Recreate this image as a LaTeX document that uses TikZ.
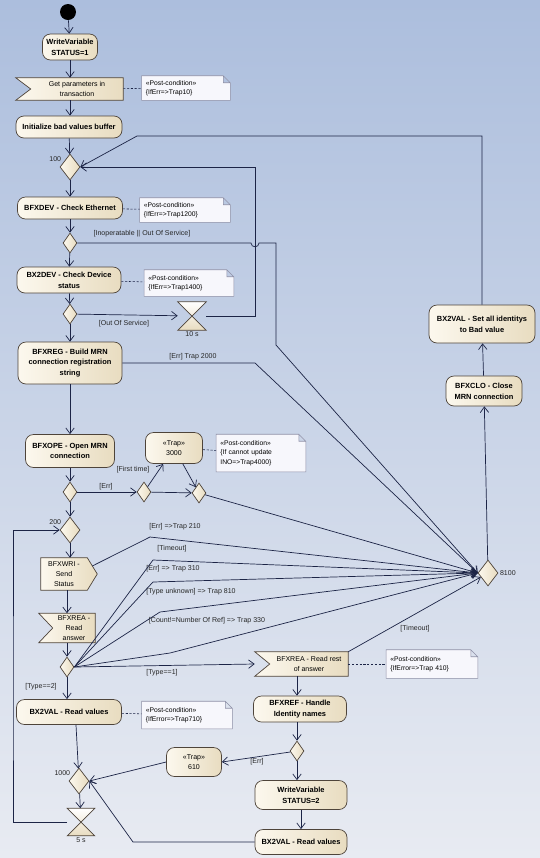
\documentclass[tikz,border=0pt]{standalone}
\usepackage{fontspec}
\setmainfont{Liberation Sans}
\usetikzlibrary{arrows.meta,shapes.geometric,backgrounds}
\newcommand{\px}{0.025cm}
\definecolor{bgtop}{RGB}{172,190,221}
\definecolor{bgbot}{RGB}{232,235,242}
\definecolor{creaml}{RGB}{252,248,238}
\definecolor{creamr}{RGB}{232,220,192}
\definecolor{boxline}{RGB}{78,68,58}
\definecolor{flowline}{RGB}{28,36,70}
\definecolor{notefill}{RGB}{247,247,252}
\definecolor{noteline}{RGB}{140,142,165}
\begin{document}
\begin{tikzpicture}[x=\px,y=-\px]
  \tikzset{
    wh/.style 2 args={minimum width=#1*\px, minimum height=#2*\px},
    start/.style={circle, fill=black, inner sep=0pt, minimum size=16*\px},
    act/.style={draw=boxline, line width=0.5pt, rounded corners=8*\px, left color=creaml, right color=creamr, align=center, inner sep=1pt, font=\fontsize{5.3}{7.6}\selectfont\bfseries},
    trap/.style={act, font=\fontsize{5}{7}\selectfont},
    sigtext/.style={align=center, inner sep=1pt, font=\fontsize{5}{7}\selectfont},
    sig/.style={draw=boxline, line width=0.5pt, left color=creaml, right color=creamr},
    hour/.style={draw=boxline, line width=0.5pt, top color=white, bottom color=creamr},
    choice/.style={diamond, draw=boxline, line width=0.5pt, left color=creaml, right color=creamr, inner sep=0pt},
    big/.style={choice, wh={20}{26}},
    small/.style={choice, wh={14}{20}},
    wait/.style={inner sep=0pt, wh={28}{28}},
    note/.style={align=left, inner xsep=4*\px, inner ysep=1pt, font=\fontsize{4.8}{6.7}\selectfont},
    notebox/.style={draw=noteline, line width=0.4pt, fill=notefill},
    lbl/.style={inner sep=1pt, font=\fontsize{5}{6}\selectfont, text=black!85},
    flow/.style={color=flowline, line width=0.5pt, -{Straight Barb[length=4pt,width=6pt]}},
    link/.style={color=flowline, line width=0.4pt, dash pattern=on 1.5pt off 1.2pt}
  }
  \useasboundingbox (0,0) rectangle (540,858);
  \begin{scope}[on background layer]
    \shade[top color=bgtop, bottom color=bgbot] (0,0) rectangle (540,858);
  \end{scope}

  \node[start] at (68,12) (s) {};
  \node[act, wh={55}{26}] at (70,47) (w1) {WriteVariable\\STATUS=1};
  \node[sigtext, wh={92}{22}] at (77,89) (get) {Get parameters in\\transaction};
  \node[note, text width=2cm, minimum height=24*\px] at (186,88) (n1) {«Post-condition»\\\{IfErr=>Trap10\}};
  \node[act, wh={106}{22}] at (69,127) (init) {Initialize bad values buffer};
  \node[big] at (70,167) (d100) [label={[lbl]150:100}] {};
  \node[act, wh={105}{22}] at (70,208) (bfxdev) {BFXDEV - Check Ethernet};
  \node[note, text width=2.05cm, minimum height=24*\px] at (185,210) (n2) {«Post-condition»\\\{IfErr=>Trap1200\}};
  \node[small] at (70,243) (d2) {};
  \node[act, wh={104}{26}] at (69,280) (bx2dev) {BX2DEV - Check Device\\status};
  \node[note, text width=2.025cm, minimum height=26*\px] at (189,283) (n3) {«Post-condition»\\\{IfErr=>Trap1400\}};
  \node[small] at (70,314) (d3) {};
  \node[wait] at (192,316) (h10) [label={[lbl]below:10 s}] {};
  \node[act, wh={104}{42}] at (70,363) (bfxreg) {BFXREG - Build MRN\\connection registration\\string};
  \node[act, wh={89}{33}] at (70,451) (bfxope) {BFXOPE - Open MRN\\connection};
  \node[trap, wh={57}{31}] at (174,448) (trap3) {«Trap»\\3000};
  \node[note, text width=2.025cm, minimum height=37*\px] at (261,453) (n4) {«Post-condition»\\\{If cannot update\\INO=>Trap4000\}};
  \node[small] at (70,492) (d4) {};
  \node[small] at (144,492) (d5) {};
  \node[small] at (199,493) (d6) {};
  \node[big] at (70,530) (d200) [label={[lbl]150:200}] {};
  \node[sigtext, wh={46}{32}] at (64,574) (bfxwri) {BFXWRI -\\Send\\Status};
  \node[sigtext, wh={42}{29}] at (74,628) (bfxrea) {BFXREA -\\Read\\answer};
  \node[small] at (67,667) (d7) {};
  \node[act, wh={105}{25}] at (69,712) (bx2val) {BX2VAL - Read values};
  \node[note, text width=2.05cm, minimum height=27*\px] at (187,715) (n5) {«Post-condition»\\\{IfError=>Trap710\}};
  \node[big] at (79,781) (d1000) [label={[lbl]150:1000}] {};
  \node[trap, wh={55}{29}] at (194,762) (trap6) {«Trap»\\610};
  \node[wait, wh={27}{27}] at (81,822) (h5) [label={[lbl]below:5 s}] {};
  \node[sigtext, wh={78}{24}] at (309,664) (bfxrea2) {BFXREA - Read rest\\of answer};
  \node[note, text width=2.075cm, minimum height=28*\px] at (432,664) (n6) {«Post-condition»\\\{IfError=>Trap 410\}};
  \node[act, wh={93}{26}] at (300,709) (bfxref) {BFXREF - Handle\\Identity names};
  \node[small] at (297,751) (d8) {};
  \node[act, wh={92}{29}] at (301,795) (w2) {WriteVariable\\STATUS=2};
  \node[act, wh={92}{25}] at (301,842) (bx2val2) {BX2VAL - Read values};
  \node[big] at (488,573) (d8100) [label={[lbl]right:8100}] {};
  \node[act, wh={76}{30}] at (484,391) (bfxclo) {BFXCLO - Close\\MRN connection};
  \node[act, wh={106}{38}] at (482,324) (bx2set) {BX2VAL - Set all identitys\\to Bad value};

  \node[lbl] at (142,234) (l1) {[Inoperatable || Out Of Service]};
  \node[lbl] at (124,324) (l2) {[Out Of Service]};
  \node[lbl] at (193,357) (l3) {[Err] Trap 2000};
  \node[lbl] at (106,487) (l4) {[Err]};
  \node[lbl] at (133,470) (l5) {[First time]};
  \node[lbl] at (175,527) (l6) {[Err] =>Trap 210};
  \node[lbl] at (172,549) (l7) {[Timeout]};
  \node[lbl] at (173,569) (l8) {[Err] => Trap 310};
  \node[lbl] at (191,592) (l9) {[Type unknown] => Trap 810};
  \node[lbl] at (207,621) (l10) {[Count!=Number Of Ref] => Trap 330};
  \node[lbl] at (162,673) (l11) {[Type==1]};
  \node[lbl] at (41,687) (l12) {[Type==2]};
  \node[lbl] at (257,762) (l13) {[Err]};
  \node[lbl] at (415,629) (l14) {[Timeout]};

  \coordinate (k1) at (255,316);
  \coordinate (k2) at (137,136);
  \coordinate (k3) at (276,345);
  \coordinate (k4) at (255,363);
  \coordinate (k5) at (13,700);
  \coordinate (k6) at (150,537);
  \coordinate (k7) at (153,560);
  \coordinate (k8) at (153,582);
  \coordinate (k9) at (160,612);
  \coordinate (k10) at (170,653);
  \coordinate (k11) at (133,842);

  \begin{scope}[on background layer]
    \foreach \n in {n1,n2,n3,n4,n5,n6}
      \draw[notebox] (\n.north west) -- ([xshift=-7*\px]\n.north east) -- ([yshift=-7*\px]\n.north east) -- (\n.south east) -- (\n.south west) -- cycle
        ([xshift=-7*\px]\n.north east) |- ([yshift=-7*\px]\n.north east);
    \foreach \n/\k in {get/15,bfxrea/14,bfxrea2/15}
      \draw[sig] ([xshift=-\k*\px]\n.north west) -- (\n.north east) -- (\n.south east) -- ([xshift=-\k*\px]\n.south west) -- (\n.west) -- cycle;
    \draw[sig] (bfxwri.north west) -- (bfxwri.north east) -- ([xshift=10*\px]bfxwri.east) -- (bfxwri.south east) -- (bfxwri.south west) -- cycle;
    \foreach \n in {h10,h5}
      \draw[hour] (\n.north west) -- (\n.north east) -- (\n.south west) -- (\n.south east) -- cycle;
  \end{scope}

  \path[flow] (s) edge (w1);
  \path[flow] (w1) edge (w1 |- get.north);
  \path[flow] (w1 |- get.south) edge (w1 |- init.north);
  \path[flow] (init) edge (d100);
  \path[flow] (d100) edge (bfxdev);
  \path[flow] (bfxdev) edge (d2);
  \path[flow] (d2) edge (bx2dev);
  \path[flow] (bx2dev) edge (d3);
  \path[flow] (d3) edge (bfxreg);
  \path[flow] (d3) edge (h10);
  \draw[flow] (h10.east) -- (k1) |- (d100.east);
  \draw[flow] (bx2set.north) |- (k2) -- (d100.east);
  \draw[flow] (d2.east) -- (251,243) .. controls (251,248) and (259,248) .. (259,243) -- (k3 |- d2) -- (k3) -- (d8100.west);
  \draw[flow] (bfxreg.east) -- (k4) -- (d8100.west);
  \path[flow] (bfxreg) edge (bfxope);
  \path[flow] (bfxope) edge (d4);
  \path[flow] (d4) edge (d5);
  \path[flow] (d5) edge (trap3);
  \path[flow] (d5) edge (d6);
  \path[flow] (trap3) edge (d6);
  \path[flow] (d6) edge (d8100.west);
  \path[flow] (d4) edge (d200);
  \draw[flow] (h5.west) -| (k5) |- (d200.west);
  \path[flow] (d200) edge (d200 |- bfxwri.north);
  \path[flow] (bfxwri.south -| d7) edge (d7 |- bfxrea.north);
  \path[flow] (bfxrea.south -| d7) edge (d7);
  \draw[flow] ([xshift=5*\px,yshift=8*\px]bfxwri.east) -- (k6) -- (d8100.west);
  \draw[flow] (d7.east) -- (k7) -- (d8100.west);
  \draw[flow] (d7.east) -- (k8) -- (d8100.west);
  \draw[flow] (d7.east) -- (k9) -- (d8100.west);
  \draw[flow] (d7.east) -- (k10) -- (d8100.west);
  \path[flow] (d7.east) edge ([xshift=-15*\px]bfxrea2.west);
  \path[flow] (d7) edge (d7 |- bx2val.north);
  \path[flow] ([xshift=7*\px]bx2val.south) edge (d1000);
  \path[flow] (trap6.west) edge (d1000.east);
  \path[flow] (d1000) edge (h5);
  \draw[flow] (bx2val2.west) -- (k11) -- (d1000.east);
  \path[flow] (bfxrea2.south -| d8) edge (d8 |- bfxref.north);
  \path[flow] (d8 |- bfxref.south) edge (d8);
  \path[flow] (d8) edge (d8 |- w2.north);
  \path[flow] (w2) edge (bx2val2);
  \path[flow] (d8) edge (trap6.east);
  \path[flow] (bfxrea2.north east) edge (d8100);
  \path[flow] (d8100) edge (bfxclo);
  \path[flow] (bfxclo) edge (bx2set);

  \path[link] (get) edge (n1);
  \path[link] (bfxdev) edge (n2);
  \path[link] (bx2dev) edge (n3);
  \path[link] (trap3) edge (n4);
  \path[link] (bx2val) edge (n5);
  \path[link] (bfxrea2) edge (n6);
\end{tikzpicture}
\end{document}
